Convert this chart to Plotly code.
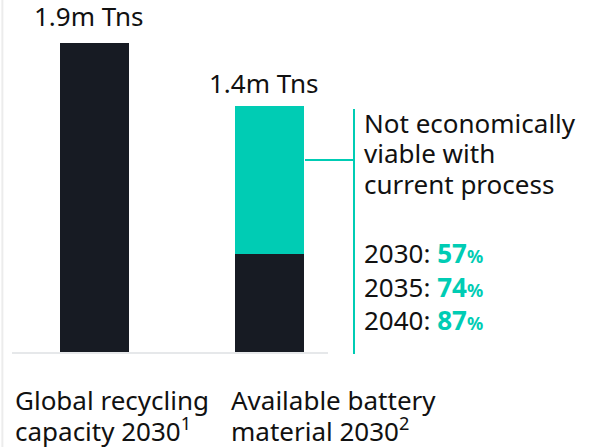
import plotly.graph_objects as go

# ---- data ----
categories = ["Global recycling capacity 2030", "Available battery material 2030"]
dark_values = [1.9, 0.6]      # m tonnes (viable / capacity)
teal_values = [None, 0.91]    # m tonnes, not economically viable (as drawn)
total_labels = ["1.9m Tns", "1.4m Tns"]
cat_labels = [["Global recycling", "capacity 2030<sup>1</sup>"],
              ["Available battery", "material 2030<sup>2</sup>"]]
note_lines = ["Not economically", "viable with", "current process"]
years = ["2030", "2035", "2040"]
shares = [57, 74, 87]

DARK = "#171b23"
TEAL = "#00ccb4"
TXT = "#111111"
FONT = "Noto Sans"
FS = 26

W, H = 596, 447
PX_PER_CAT = 175.0
X0_PX = 94.5
BASE_PX = 352.0
PX_PER_UNIT = 309.0 / 1.9

def xd(px):
    return (px - X0_PX) / PX_PER_CAT

def yd(py):
    return (BASE_PX - py) / PX_PER_UNIT

fig = go.Figure()
fig.add_trace(go.Bar(x=[0, 1], y=dark_values, marker=dict(color=DARK, line=dict(width=0)),
                     width=69 / PX_PER_CAT, hoverinfo="skip"))
fig.add_trace(go.Bar(x=[0, 1], y=teal_values, marker=dict(color=TEAL, line=dict(width=0)),
                     width=69 / PX_PER_CAT, hoverinfo="skip"))

def txt(xpx, ypx, text, anchor="left"):
    return dict(x=xd(xpx), y=yd(ypx), text=text, showarrow=False, xanchor=anchor,
                yanchor="middle", align="left", font=dict(size=FS, color=TXT, family=FONT))

ann = []
ann.append(txt(88, 16, total_labels[0], "center"))
ann.append(txt(263, 82.5, total_labels[1], "center"))
for i, line in enumerate(note_lines):
    ann.append(txt(362, 122.5 + i * 30.8, line))
for i, (yr, s) in enumerate(zip(years, shares)):
    ann.append(txt(362, 253 + i * 33.5,
                   f"{yr}: <b><span style='color:{TEAL}'>{s}<span style='font-size:18px'>%</span></span></b>"))
for cx, lines in zip([13, 229], cat_labels):
    for j, line in enumerate(lines):
        ann.append(txt(cx, 400 + j * 30, line))

shapes = [
    dict(type="line", xref="paper", yref="paper", x0=0.004, x1=0.004, y0=0, y1=1,
         line=dict(color="#ececec", width=2)),
    dict(type="line", xref="x", yref="y", x0=xd(12), x1=xd(328), y0=yd(353), y1=yd(353),
         line=dict(color="#e6e8ea", width=2)),
    dict(type="line", xref="x", yref="y", x0=xd(354), x1=xd(354), y0=yd(109), y1=yd(354),
         line=dict(color=TEAL, width=2)),
    dict(type="line", xref="x", yref="y", x0=xd(305), x1=xd(354), y0=yd(160), y1=yd(160),
         line=dict(color=TEAL, width=2)),
]

fig.update_layout(
    width=W, height=H, margin=dict(l=0, r=0, t=0, b=0),
    barmode="stack", showlegend=False,
    plot_bgcolor="white", paper_bgcolor="white",
    xaxis=dict(range=[xd(0), xd(W)], visible=False, fixedrange=True),
    yaxis=dict(range=[yd(H), yd(0)], visible=False, fixedrange=True),
    annotations=ann, shapes=shapes,
    font=dict(family=FONT),
)
fig.write_html("out.html", config={"displayModeBar": False},
               post_script="document.body.style.margin='0';document.body.style.overflow='hidden';")
